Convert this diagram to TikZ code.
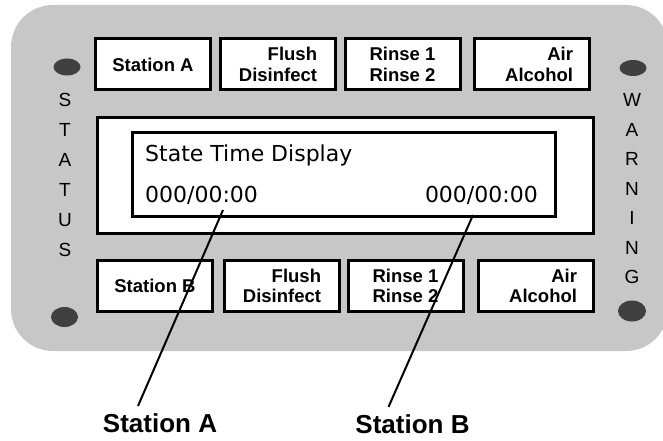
\documentclass[tikz,border=0pt]{standalone}
\usepackage{fontspec}
\setmainfont{Liberation Sans}
\newfontfamily\lcdfont{DejaVu Sans}
\usetikzlibrary{positioning}

\tikzset{
  key/.style={draw, line width=3pt, fill=white, minimum width=115pt,
    minimum height=51pt, inner sep=0pt, align=right,
    font=\bfseries\fontsize{18.5}{20.5}\selectfont},
  frame/.style={draw, line width=3pt},
  led/.style={fill=black!75},
  lamp/.style={font=\fontsize{19}{19}\selectfont, inner sep=0pt},
  lcd/.style={font=\lcdfont\fontsize{22}{22}\selectfont, inner sep=0pt},
  callout/.style={font=\bfseries\fontsize{26}{26}\selectfont, inner sep=0pt},
  pointer/.style={line width=2pt},
}

\begin{document}
\begin{tikzpicture}[x=1pt, y=-1pt]

\useasboundingbox (0,0) rectangle (663,441);

% --- Panel ---
\fill[black!22, rounded corners=42pt] (11,5) rectangle (668,351);

% Indicator lamps
\fill[led] (67,67) ellipse (13.5pt and 8.5pt);
\fill[led] (64.5,317) ellipse (13.5pt and 10pt);
\fill[led] (633,68) ellipse (13.5pt and 8pt);
\fill[led] (632,311) ellipse (14pt and 10.5pt);

% Lamp captions
\foreach \ch [count=\i] in {S,T,A,T,U,S}
  \node[lamp] (st\i) at (65, 70+30*\i) {\ch};
\foreach \ch [count=\i] in {W,A,R,N,I,N,G}
  \node[lamp] (wn\i) at (632, 70.5+29.5*\i) {\ch};

% --- Keys, top row ---
\node[key] (keyA1) at (153,64.5) {Station A};
\node[key] (keyF1) at (278,64.5) {Flush\\Disinfect};
\node[key] (keyR1) at (402.5,64.5) {Rinse 1\\Rinse 2};
\node[key, text width=82pt] (keyL1) at (532,64.5) {Air\\Alcohol};

% --- Keys, bottom row ---
\node[key] (keyB2) at (155,286) {Station B};
\node[key] (keyF2) at (282,286) {Flush\\Disinfect};
\node[key] (keyR2) at (405.5,286) {Rinse 1\\Rinse 2};
\node[key, text width=82pt] (keyL2) at (536,286) {Air\\Alcohol};

% --- Display ---
\node[frame, fill=white, minimum width=496pt, minimum height=116pt] (lcd) at (345,175) {};
\node[frame, minimum width=423pt, minimum height=84pt] (screen) at (343.5,174) {};

\node[lcd, anchor=base west] (title) at (145,161) {State Time Display};
\node[lcd, anchor=base west] (timeA) at (145,202) {000/00:00};
\node[lcd, anchor=base east] (timeB) at (538,202) {000/00:00};

% --- Callouts ---
\coordinate (tipA) at (223,210);
\coordinate (tipB) at (473,215);
\node[callout, anchor=base] (lblA) at (160,432) {Station A};
\node[callout, anchor=base] (lblB) at (412.5,433) {Station B};

\draw[pointer] (tipA) -- ([xshift=-22pt,yshift=7pt]lblA.north);
\draw[pointer] (tipB) -- ([xshift=-24pt,yshift=7pt]lblB.north);

\end{tikzpicture}
\end{document}
